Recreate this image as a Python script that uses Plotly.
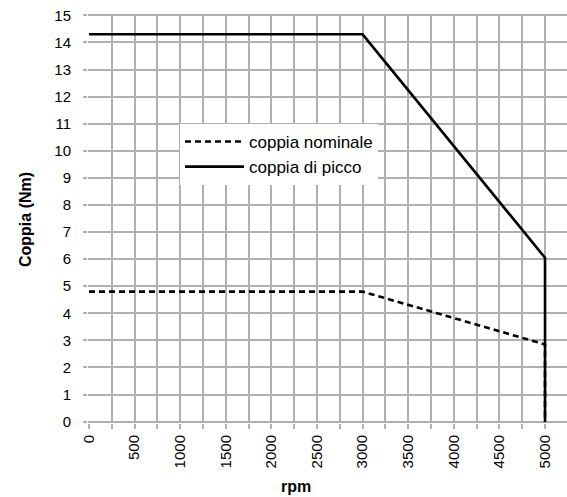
import plotly.graph_objects as go

# Torque curves vs. motor speed
rpm = [0, 3000, 5000, 5000]
coppia_nominale = [4.8, 4.8, 2.85, 0]
coppia_picco = [14.3, 14.3, 6.05, 0]

x_ticks = list(range(0, 5001, 250))
x_labels = [str(v) if v % 500 == 0 else "" for v in x_ticks]
y_ticks = list(range(0, 16))

FONT = "Liberation Sans, Arial, sans-serif"
GRID = "#b0b0b0"

W, H = 567, 497
L, R, T, B = 88, 0, 14, 74

fig = go.Figure()
fig.add_trace(go.Scatter(
    x=rpm, y=coppia_nominale, mode="lines", name="coppia nominale",
    line=dict(color="black", width=2.6, dash="6px,4px"),
))
fig.add_trace(go.Scatter(
    x=rpm, y=coppia_picco, mode="lines", name="coppia di picco",
    line=dict(color="black", width=2.6),
))

pw = W - L - R
ph = H - T - B


def px_x(p):
    return (p - L) / pw


def px_y(p):
    return (H - B - p) / ph


fig.update_layout(
    width=W, height=H,
    margin=dict(l=L, r=R, t=T, b=B, pad=0),
    paper_bgcolor="white", plot_bgcolor="white",
    showlegend=True,
    legend=dict(
        x=px_x(180), y=px_y(124), xanchor="left", yanchor="top",
        bgcolor="white", borderwidth=0,
        font=dict(size=17, family=FONT, color="black"),
        itemwidth=59, tracegroupgap=0,
    ),
    xaxis=dict(
        range=[-11, 5241], tickvals=x_ticks, ticktext=x_labels,
        tickangle=-90, showgrid=True, gridcolor=GRID, gridwidth=2,
        ticks="outside", ticklen=5, tickcolor=GRID, tickwidth=2,
        zeroline=False, showline=False,
        tickfont=dict(size=15, family=FONT, color="black"),
    ),
    yaxis=dict(
        range=[-0.05, 15.05], tickvals=y_ticks,
        showgrid=True, gridcolor=GRID, gridwidth=2,
        ticks="outside", ticklen=4, tickcolor=GRID, tickwidth=2,
        zeroline=False, showline=False,
        tickfont=dict(size=15, family=FONT, color="black"),
        ticklabelstandoff=9,
    ),
    annotations=[
        dict(text="<b>rpm</b>", xref="paper", yref="paper",
             x=px_x(296), y=px_y(486), xanchor="center", yanchor="middle",
             showarrow=False, font=dict(size=16, family=FONT, color="black")),
        dict(text="<b>Coppia (Nm)</b>", xref="paper", yref="paper",
             x=px_x(25), y=px_y(220), xanchor="center", yanchor="middle",
             textangle=-90, showarrow=False,
             font=dict(size=16, family=FONT, color="black")),
    ],
)

fig.write_html("out.html")
